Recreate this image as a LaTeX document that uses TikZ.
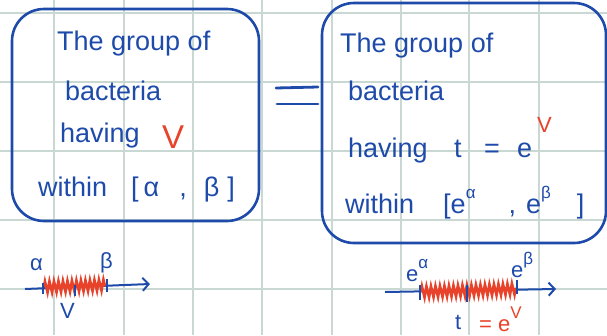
\documentclass[tikz,border=0pt]{standalone}
\usepackage{fontspec}
\setmainfont{Liberation Sans}
\usetikzlibrary{arrows.meta,decorations.pathmorphing}
\definecolor{ink}{HTML}{1E4BAA}
\definecolor{redink}{HTML}{E8432A}
\definecolor{gridc}{HTML}{C9D8D2}
\newcommand{\supx}[1]{\raisebox{0.55em}{\fontsize{17}{17}\selectfont #1}}
\begin{document}
\begin{tikzpicture}[x=1pt,y=-1pt,
  hand/.style={font=\fontsize{27}{30}\selectfont, text=ink, inner sep=0pt, anchor=base west},
  lbl/.style={font=\fontsize{22}{24}\selectfont, text=ink, inner sep=0pt, anchor=base west},
  box/.style={draw=ink, line width=2.6pt, rounded corners=32pt, inner sep=0pt},
  axis/.style={draw=ink, line width=2pt, -{Straight Barb[length=6pt,width=13pt]}},
  tick/.style={draw=ink, line width=2pt},
  bar/.style={draw=ink, line width=2.8pt, line cap=round},
  hatch/.style={draw=redink, line width=2.6pt, decorate, decoration={zigzag, segment length=4.5pt, amplitude=5.5pt}}]
\useasboundingbox (0,0) rectangle (607,335);
\fill[white] (0,0) rectangle (607,335);
\foreach \x in {54,124,193,262,332,401,469,539} \draw[gridc, line width=1.3pt] (\x,0) -- (\x,335);
\foreach \y in {13,82,151,220,289} \draw[gridc, line width=1.3pt] (0,\y) -- (607,\y);
% boxes
\node[box, minimum width=247pt, minimum height=212pt] (boxL) at (135.5,115) {};
\node[box, minimum width=284pt, minimum height=240pt] (boxR) at (464,123) {};
% left text
\node[hand] (l1) at (57,50) {The group of};
\node[hand] (l2) at (65,100) {bacteria};
\node[hand] (l3) at (60,142) {having};
\node[hand, text=redink, font=\fontsize{33}{34}\selectfont] (l3v) at (162,148) {V};
\node[hand] (l4) at (38,196) {within\hspace{24pt}[\hspace{5pt}α\hspace{20pt},\hspace{17pt}β\hspace{8pt}]};
% equals
\coordinate (e1a) at (276,88); \coordinate (e1b) at (318,87);
\coordinate (e2a) at (277,104); \coordinate (e2b) at (318,104);
\draw[bar] (e1a) -- (e1b);
\draw[bar] (e2a) -- (e2b);
% right text
\node[hand] (r1) at (340,52) {The group of};
\node[hand] (r2) at (348,100) {bacteria};
\node[hand] (r3) at (348,157) {having};
\node[hand] (r3t) at (454,157) {t};
\node[hand] (r3q) at (484,157) {=};
\node[hand] (r3e) at (517,157) {e};
\node[hand, text=redink, font=\fontsize{22}{24}\selectfont] (r3v) at (537,132) {V};
\node[hand] (r4) at (345,213) {within\hspace{29pt}[e\supx{α}\hspace{33pt},\hspace{10pt}e\supx{β}\hspace{26pt}]};
% left number line
\coordinate (la) at (25,289);
\coordinate (lb) at (150,284);
\draw[axis] (la) -- (lb);
\coordinate (lt1a) at (43,283); \coordinate (lt1b) at (43,294);
\coordinate (lt2a) at (107,279); \coordinate (lt2b) at (107,292);
\coordinate (lt3a) at (75,285); \coordinate (lt3b) at (75,296);
\coordinate (lh1) at (44,287); \coordinate (lh2) at (106,285);
\draw[hatch] (lh1) -- (lh2);
\draw[tick] (lt1a) -- (lt1b);
\draw[tick] (lt2a) -- (lt2b);
\draw[tick] (lt3a) -- (lt3b);
\node[lbl] (lal) at (30,270) {α};
\node[lbl] (lbe) at (100,268) {β};
\node[lbl] (lnu) at (60,318) {V};
% right number line
\coordinate (ra) at (385,292);
\coordinate (rb) at (556,289);
\draw[axis] (ra) -- (rb);
\coordinate (rt1a) at (420,285); \coordinate (rt1b) at (420,300);
\coordinate (rt2a) at (517,280); \coordinate (rt2b) at (517,294);
\coordinate (rt3a) at (467,285); \coordinate (rt3b) at (467,302);
\coordinate (rh1) at (421,292); \coordinate (rh2) at (516,289);
\draw[hatch] (rh1) -- (rh2);
\draw[tick] (rt1a) -- (rt1b);
\draw[tick] (rt2a) -- (rt2b);
\draw[tick] (rt3a) -- (rt3b);
\node[lbl] (rea) at (406,281) {e\supx{α}};
\node[lbl] (reb) at (511,277) {e\supx{β}};
\node[lbl] (rt) at (455,329) {t};
\node[lbl, text=redink] (rev) at (479,331) {= e\supx{V}};
\end{tikzpicture}
\end{document}
